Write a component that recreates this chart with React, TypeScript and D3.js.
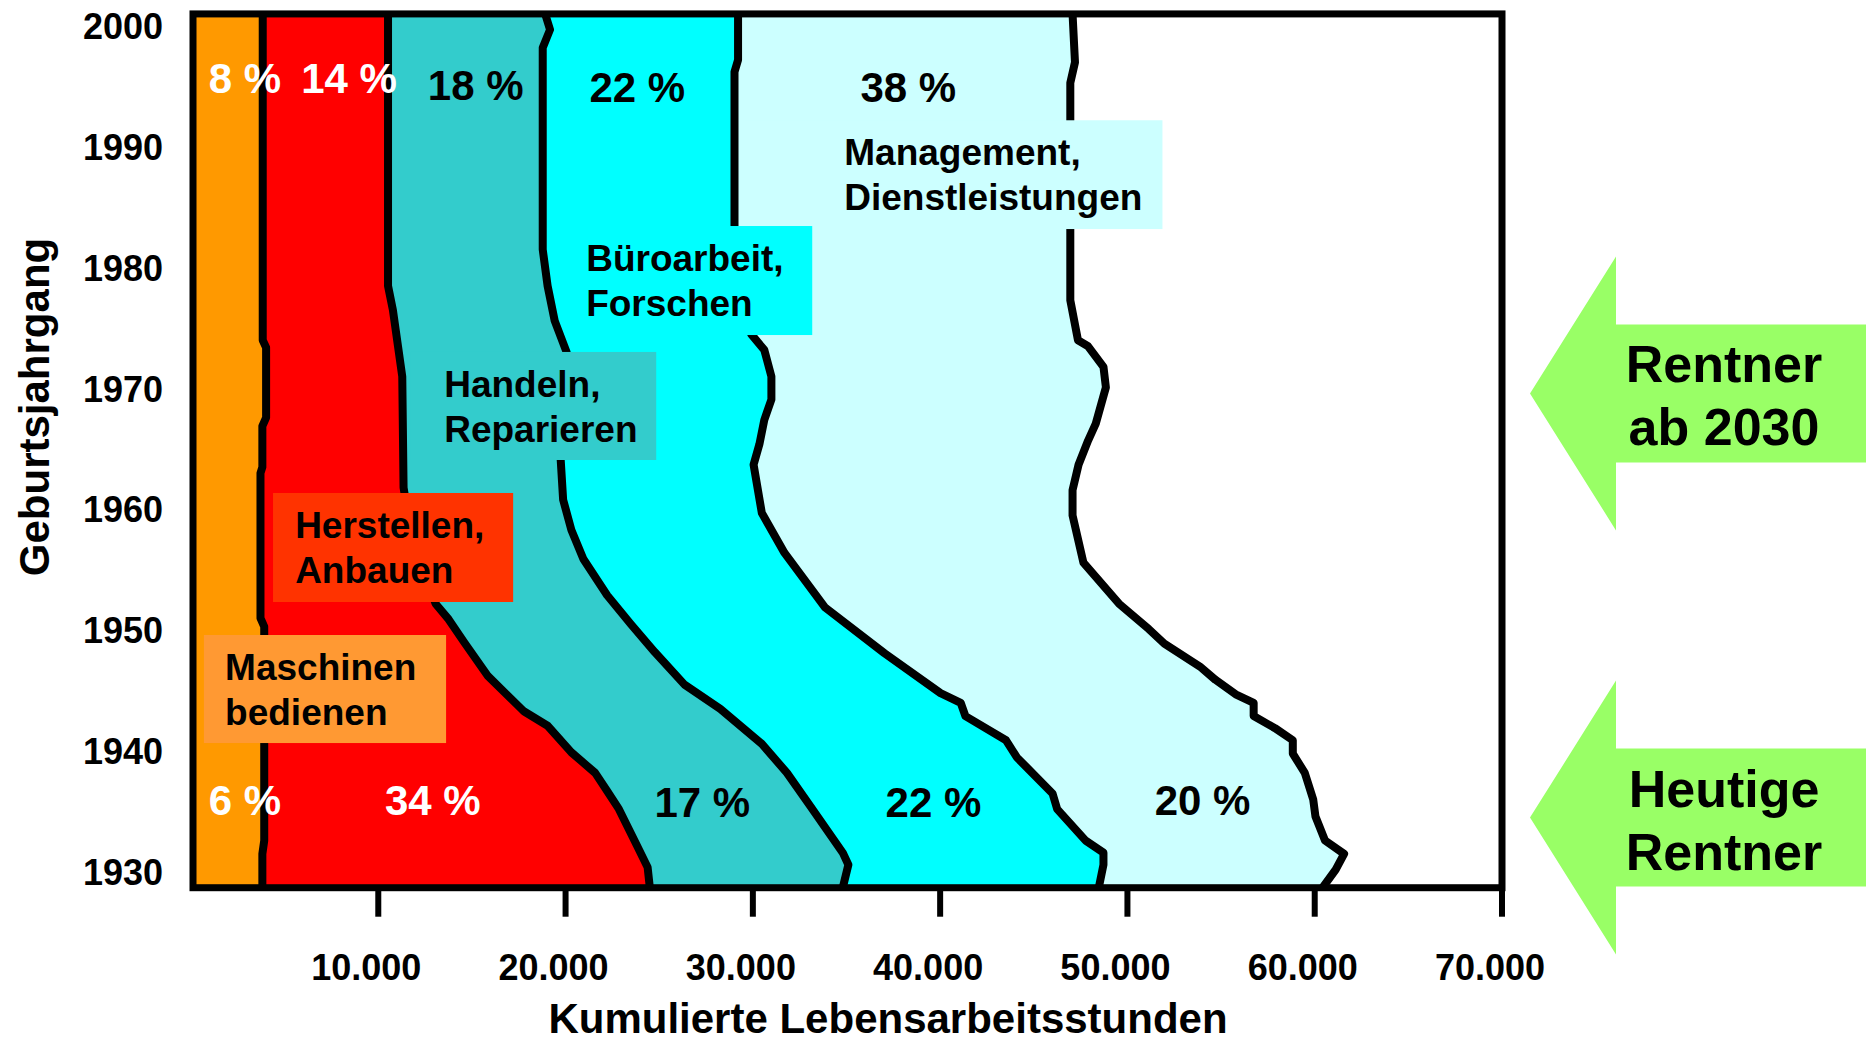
import * as d3 from 'd3';

type Pt = [number, number]; // [Geburtsjahrgang, kumulierte Stunden]

// rechte Grenze jedes Tätigkeitsbandes
const edgeMaschinen: Pt[] = [
  [2001, 3830], [1974.0, 3830], [1973.4, 4010], [1967.6, 4010], [1966.9, 3810],
  [1963.5, 3810], [1963.0, 3710], [1951.0, 3710], [1950.3, 3910], [1932.6, 3910],
  [1931.5, 3810], [1928.7, 3810],
];
const edgeHerstellen: Pt[] = [
  [2001, 10520], [1978.5, 10520], [1976.5, 10780], [1971.0, 11280], [1961.8, 11350],
  [1957.5, 11800], [1952.2, 13060], [1950.9, 13760], [1949.0, 14590], [1946.2, 15860],
  [1943.3, 17770], [1942.1, 19040], [1939.9, 20310], [1938.2, 21580], [1936.7, 22220],
  [1935.2, 22850], [1932.2, 23810], [1930.4, 24380], [1928.7, 24500],
];
const edgeHandeln: Pt[] = [
  [2001, 18910], [1999.7, 19170], [1998.2, 18780], [1981.5, 18780], [1978.5, 19040],
  [1975.6, 19420], [1973.0, 20060], [1964.1, 19740], [1960.8, 19870], [1958.3, 20310],
  [1955.9, 20950], [1952.9, 22220], [1950.5, 23490], [1948.2, 24760], [1945.5, 26350],
  [1943.5, 28260], [1940.6, 30480], [1938.2, 31820], [1935.4, 33090], [1931.6, 34800],
  [1930.6, 35100], [1928.7, 34800],
];
const edgeBuero: Pt[] = [
  [2001, 29210], [1997.2, 29210], [1996.2, 29020], [1983.4, 29020], [1974.5, 29910],
  [1973.2, 30610], [1971.0, 30990], [1969.1, 30990], [1967.4, 30610], [1965.4, 30350],
  [1963.7, 30040], [1959.7, 30480], [1956.4, 31690], [1951.9, 33850], [1948.1, 37030],
  [1944.8, 40020], [1944.0, 41100], [1942.9, 41350], [1940.9, 43520], [1939.5, 44090],
  [1936.5, 46000], [1935.2, 46250], [1932.6, 47770], [1931.6, 48720], [1930.6, 48720],
  [1928.7, 48470],
];
const edgeManagement: Pt[] = [
  [2001, 47070], [1997.0, 47200], [1995.3, 46950], [1977.3, 46950], [1974.0, 47360],
  [1973.5, 47900], [1971.8, 48720], [1970.1, 48850], [1967.1, 48310], [1965.7, 47900],
  [1963.7, 47390], [1961.6, 47070], [1959.5, 47070], [1955.6, 47650], [1952.2, 49550],
  [1950.1, 51140], [1948.9, 51970], [1947.0, 53870], [1945.9, 54700], [1944.7, 55780],
  [1944.0, 56740], [1942.9, 56740], [1941.9, 57880], [1940.9, 58830], [1939.8, 58830],
  [1938.2, 59470], [1936.0, 59920], [1934.6, 60040], [1932.6, 60550], [1931.5, 61570],
  [1930.2, 61120], [1928.7, 60420],
];

const bandEdges = [edgeMaschinen, edgeHerstellen, edgeHandeln, edgeBuero, edgeManagement];
const bandColors = ['#ff9900', '#ff0000', '#33cccc', '#00ffff', '#ccffff'];

const sharesTop = ['8 %', '14 %', '18 %', '22 %', '38 %'];
const sharesTopAt = [2885, 8440, 15200, 23830, 38300];
const sharesTopYear = [1994.45, 1994.45, 1993.85, 1993.7, 1993.7];
const sharesBottom = ['6 %', '34 %', '17 %', '22 %', '20 %'];
const sharesBottomAt = [2885, 12910, 27300, 39640, 54010];
const sharesBottomYear = [1934.7, 1934.7, 1934.55, 1934.55, 1934.7];
const shareWhite = [true, true, false, false, false];

const xTicks = [10000, 20000, 30000, 40000, 50000, 60000, 70000];
const yTicks = [1930, 1940, 1950, 1960, 1970, 1980, 1990, 2000];

const boxes = [
  { lines: ['Management,', 'Dienstleistungen'], fill: '#ccffff', h0: 29540, h1: 51870, y0: 1992.2, y1: 1983.2, tx: 34880 },
  { lines: ['Büroarbeit,', 'Forschen'], fill: '#00ffff', h0: 20250, h1: 33170, y0: 1983.45, y1: 1974.43, tx: 21100 },
  { lines: ['Handeln,', 'Reparieren'], fill: '#33cccc', h0: 11700, h1: 24840, y0: 1973.03, y1: 1964.09, tx: 13520 },
  { lines: ['Herstellen,', 'Anbauen'], fill: '#ff3300', h0: 4380, h1: 17200, y0: 1961.36, y1: 1952.34, tx: 5560 },
  { lines: ['Maschinen', 'bedienen'], fill: '#ff9933', h0: 690, h1: 13620, y0: 1949.61, y1: 1940.67, tx: 1820 },
];

const arrows = [
  { year: 1969.6, lines: ['Rentner', 'ab 2030'] },
  { year: 1934.5, lines: ['Heutige', 'Rentner'] },
];

export default function App() {
  const W = 1866;
  const H = 1043;
  const font = '"Liberation Sans", Arial, Helvetica, sans-serif';

  const x = d3.scaleLinear().domain([0, 70000]).range([191, 1502]);
  const y = d3.scaleLinear().domain([1930, 2000]).range([872, 26]);
  const yTop = 2001;
  const yBottom = 1928.7;

  const de = d3.formatLocale({ decimal: ',', thousands: '.', grouping: [3], currency: ['', ' €'] });
  const fmt = de.format(',');

  const area = d3.area<Pt>().x0(x(0)).x1(d => x(d[1])).y(d => y(d[0]));
  const line = d3.line<Pt>().x(d => x(d[1])).y(d => y(d[0]));

  const fL = x(0) + 2;
  const fR = x(70000);
  const fT = y(yTop);
  const fB = y(yBottom);

  const tipX = 1530;
  const baseX = 1616;

  return (
    <svg width={W} height={H} viewBox={`0 0 ${W} ${H}`}
      style={{ position: 'absolute', left: 0, top: 0, display: 'block', background: '#fff' }}
      fontFamily={font} fontWeight="bold">
      <rect x={0} y={0} width={W} height={H} fill="#fff" />

      {/* bands, painted from the right-most edge inwards */}
      {bandEdges.map((e, i) => i).reverse().map(i => (
        <path key={`band${i}`} d={area(bandEdges[i]) || ''} fill={bandColors[i]} />
      ))}
      {bandEdges.map((e, i) => (
        <path key={`edge${i}`} d={line(e) || ''} fill="none" stroke="#000"
          strokeWidth={8} strokeLinejoin="round" />
      ))}

      {/* frame and ticks */}
      <rect x={fL} y={fT} width={fR - fL} height={fB - fT} fill="none" stroke="#000" strokeWidth={7} />
      {xTicks.map(t => (
        <line key={`xt${t}`} x1={x(t)} x2={x(t)} y1={fB} y2={fB + 29} stroke="#000" strokeWidth={6} />
      ))}
      {xTicks.map(t => (
        <text key={`xl${t}`} x={x(t) - 12} y={980} textAnchor="middle" fontSize={36} fill="#000">{fmt(t)}</text>
      ))}
      {yTicks.map(t => (
        <text key={`yl${t}`} x={163} y={y(t) + 13} textAnchor="end" fontSize={36} fill="#000">{t}</text>
      ))}

      {/* category boxes */}
      {boxes.map(b => (
        <g key={b.lines[0]}>
          <rect x={x(b.h0)} y={y(b.y0)} width={x(b.h1) - x(b.h0)} height={y(b.y1) - y(b.y0)} fill={b.fill} />
          {b.lines.map((l, j) => (
            <text key={l} x={x(b.tx)} y={y(b.y0) + 45 + j * 45} fontSize={37} fill="#000">{l}</text>
          ))}
        </g>
      ))}

      {/* shares */}
      {sharesTop.map((s, i) => (
        <text key={`st${i}`} x={x(sharesTopAt[i])} y={y(sharesTopYear[i])} textAnchor="middle"
          fontSize={42} fill={shareWhite[i] ? '#fff' : '#000'}>{s}</text>
      ))}
      {sharesBottom.map((s, i) => (
        <text key={`sb${i}`} x={x(sharesBottomAt[i])} y={y(sharesBottomYear[i])} textAnchor="middle"
          fontSize={42} fill={shareWhite[i] ? '#fff' : '#000'}>{s}</text>
      ))}

      {/* axis titles */}
      <text x={888} y={1033} textAnchor="middle" fontSize={42} fill="#000">Kumulierte Lebensarbeitsstunden</text>
      <text transform={`translate(49, 407) rotate(-90)`} textAnchor="middle" fontSize={42} fill="#000">Geburtsjahrgang</text>

      {/* arrows */}
      {arrows.map(a => {
        const ty = y(a.year);
        const pts = [
          [tipX, ty], [baseX, ty - 137], [baseX, ty - 69], [W, ty - 69],
          [W, ty + 69], [baseX, ty + 69], [baseX, ty + 137],
        ].map(p => p.join(',')).join(' ');
        return (
          <g key={a.lines[0] + a.year}>
            <polygon points={pts} fill="#99ff66" />
            {a.lines.map((l, j) => (
              <text key={l} x={1724} y={ty - 11 + j * 63} textAnchor="middle" fontSize={52} fill="#000">{l}</text>
            ))}
          </g>
        );
      })}
    </svg>
  );
}
